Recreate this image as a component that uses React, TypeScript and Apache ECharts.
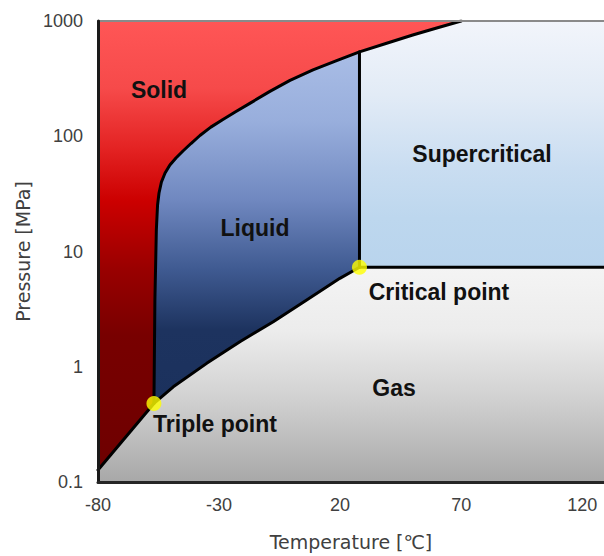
import React, { useEffect, useRef } from "react";
import * as echarts from "echarts";

// Axis ticks
const xTicks = [-80, -30, 20, 70, 120];
const yTicks = [0.1, 1, 10, 100, 1000];
const xMin = -80;
const xMax = 129;
const yMin = 0.1;
const yMax = 1000;

// Melting (solid-liquid / solid-supercritical) curve
const meltT = [-56.9, -56.5, -55.9, -55.4, -54.8, -53.8, -52.3, -50.3, -47.8, -44.9, -41.6, -37.9, -33.4, -28.4, -23.0, -17.3, -9.0, -0.7, 8.8, 18.3, 28, 38.9, 50, 59.9, 70];
const meltP = [0.48, 3.8, 15.4, 25.3, 32.2, 40.1, 48, 56.3, 64.8, 74.5, 86.5, 101.5, 120, 140, 164, 193, 245, 305, 376, 450, 540, 638, 756, 870, 1000];

// Vaporization (liquid-gas) curve
const vapT = [-56.9, -48.9, -35.1, -21.4, -7.6, 6.2, 19.9, 28];
const vapP = [0.48, 0.67, 1.07, 1.65, 2.46, 3.79, 5.85, 7.3];

// Sublimation (solid-gas) curve
const sublT = [-80, -56.9];
const sublP = [0.127, 0.48];

// Special points
const triplePoint = [-56.9, 0.48];
const criticalPoint = [28, 7.3];

const zip = (a: number[], b: number[]) => a.map((v, i) => [v, b[i]]);

const melt = zip(meltT, meltP);
const vap = zip(vapT, vapP);
const subl = zip(sublT, sublP);
const critIdx = meltT.indexOf(criticalPoint[0]);

// Region outlines (data coordinates)
const solidRegion = [[xMin, yMax], ...melt.slice().reverse(), ...subl.slice().reverse()];
const liquidRegion = [...melt.slice(0, critIdx + 1), criticalPoint, ...vap.slice().reverse()];
const superRegion = [criticalPoint, ...melt.slice(critIdx), [xMax, yMax], [xMax, criticalPoint[1]]];
const gasRegion = [[xMin, yMin], ...subl, ...vap, [xMax, criticalPoint[1]], [xMax, yMin]];

const solidColors: [number, string][] = [[0, "#ff5656"], [0.15, "#f64a4a"], [0.28, "#e42424"], [0.4, "#cc0000"], [0.55, "#9a0000"], [0.7, "#780000"], [1, "#6e0000"]];
const liquidColors: [number, string][] = [[0, "#a9bde6"], [0.2, "#98aedc"], [0.42, "#7088c0"], [0.62, "#3f5a91"], [0.79, "#1d335f"], [1, "#1b315d"]];
const superColors: [number, string][] = [[0, "#f2f5fb"], [0.3, "#e2ebf6"], [0.6, "#c9ddf1"], [0.8, "#bdd7ee"], [1, "#b9d4ed"]];
const gasColors: [number, string][] = [[0, "#f4f4f4"], [0.3, "#ececec"], [0.6, "#d2d2d2"], [0.85, "#b8b8b8"], [1, "#a8a8a8"]];

const regionSeries = (name: string, pts: number[][], colors: [number, string][]) => ({
  type: "custom",
  name,
  data: [[0, 1]],
  silent: true,
  z: 1,
  renderItem: (_params: any, api: any) => ({
    type: "polygon",
    shape: { points: pts.map((p) => api.coord(p)) },
    style: {
      fill: new echarts.graphic.LinearGradient(0, 0, 0, 1, colors.map(([o, c]) => ({ offset: o, color: c }))),
      stroke: "none",
    },
  }),
});

const lineSeries = (name: string, data: number[][]) => ({
  type: "line",
  name,
  data,
  showSymbol: false,
  silent: true,
  z: 3,
  lineStyle: { color: "#000", width: 3, join: "round", cap: "round" },
});

const labelFont = 'bold 23px "Liberation Sans", Arial, sans-serif';
const regionLabels: [string, number, number][] = [
  ["Solid", 159, 90],
  ["Liquid", 255, 228],
  ["Supercritical", 482, 154],
  ["Critical point", 439, 292],
  ["Gas", 394, 388],
  ["Triple point", 215, 424],
];

export default function App() {
  const ref = useRef<HTMLDivElement>(null);
  useEffect(() => {
    if (!ref.current) return;
    const chart = echarts.init(ref.current, null, { renderer: "svg" });
    chart.setOption({
      animation: false,
      backgroundColor: "#ffffff",
      grid: { left: 98, right: 0, top: 21, bottom: 74 },
      xAxis: [
        {
          type: "value",
          min: xMin,
          max: xMax,
          z: 10,
          name: "Temperature [℃]",
          nameLocation: "middle",
          nameGap: 50,
          nameTextStyle: { fontFamily: '"DejaVu Sans", sans-serif', fontSize: 19, color: "#404040" },
          axisLine: { show: true, onZero: false, lineStyle: { color: "#262626", width: 3 } },
          axisTick: { show: false },
          splitLine: { show: false },
          axisLabel: {
            customValues: xTicks,
            margin: 14,
            fontFamily: '"Liberation Sans", Arial, sans-serif',
            fontSize: 18,
            color: "#404040",
          },
        },
        {
          type: "value",
          position: "top",
          min: xMin,
          max: xMax,
          z: 9,
          axisLine: { show: true, onZero: false, lineStyle: { color: "#8a8a8a", width: 2 } },
          axisTick: { show: false },
          axisLabel: { show: false },
          splitLine: { show: false },
        },
      ],
      yAxis: {
        type: "log",
        logBase: 10,
        min: yMin,
        max: yMax,
        z: 10,
        name: "Pressure [MPa]",
        nameLocation: "middle",
        nameGap: 62,
        nameTextStyle: { fontFamily: '"DejaVu Sans", sans-serif', fontSize: 19, color: "#404040" },
        axisLine: { show: true, onZero: false, lineStyle: { color: "#1a1a1a", width: 3 } },
        axisTick: { show: false },
        splitLine: { show: false },
        axisLabel: {
          customValues: yTicks,
          margin: 15,
          fontFamily: '"Liberation Sans", Arial, sans-serif',
          fontSize: 18,
          color: "#404040",
          formatter: (v: number) => String(v),
        },
      },
      series: [
        regionSeries("Gas", gasRegion, gasColors),
        regionSeries("Supercritical", superRegion, superColors),
        regionSeries("Liquid", liquidRegion, liquidColors),
        regionSeries("Solid", solidRegion, solidColors),
        lineSeries("Sublimation", subl),
        lineSeries("Vaporization", vap),
        lineSeries("Melting", melt),
        lineSeries("Critical isotherm", [criticalPoint, [criticalPoint[0], meltP[critIdx]]]),
        lineSeries("Critical isobar", [criticalPoint, [xMax, criticalPoint[1]]]),
        {
          type: "scatter",
          name: "Points",
          data: [triplePoint, criticalPoint],
          symbolSize: 15,
          z: 5,
          silent: true,
          itemStyle: { color: "#ffff00" },
        },
      ],
      graphic: regionLabels.map(([t, x, y]) => ({
        type: "text",
        x,
        y,
        z: 20,
        silent: true,
        style: { text: t, font: labelFont, fill: "#111111", align: "center", verticalAlign: "middle" },
      })),
    });
    return () => chart.dispose();
  }, []);
  return <div ref={ref} style={{ position: "absolute", left: 0, top: 0, width: 604, height: 556 }} />;
}
